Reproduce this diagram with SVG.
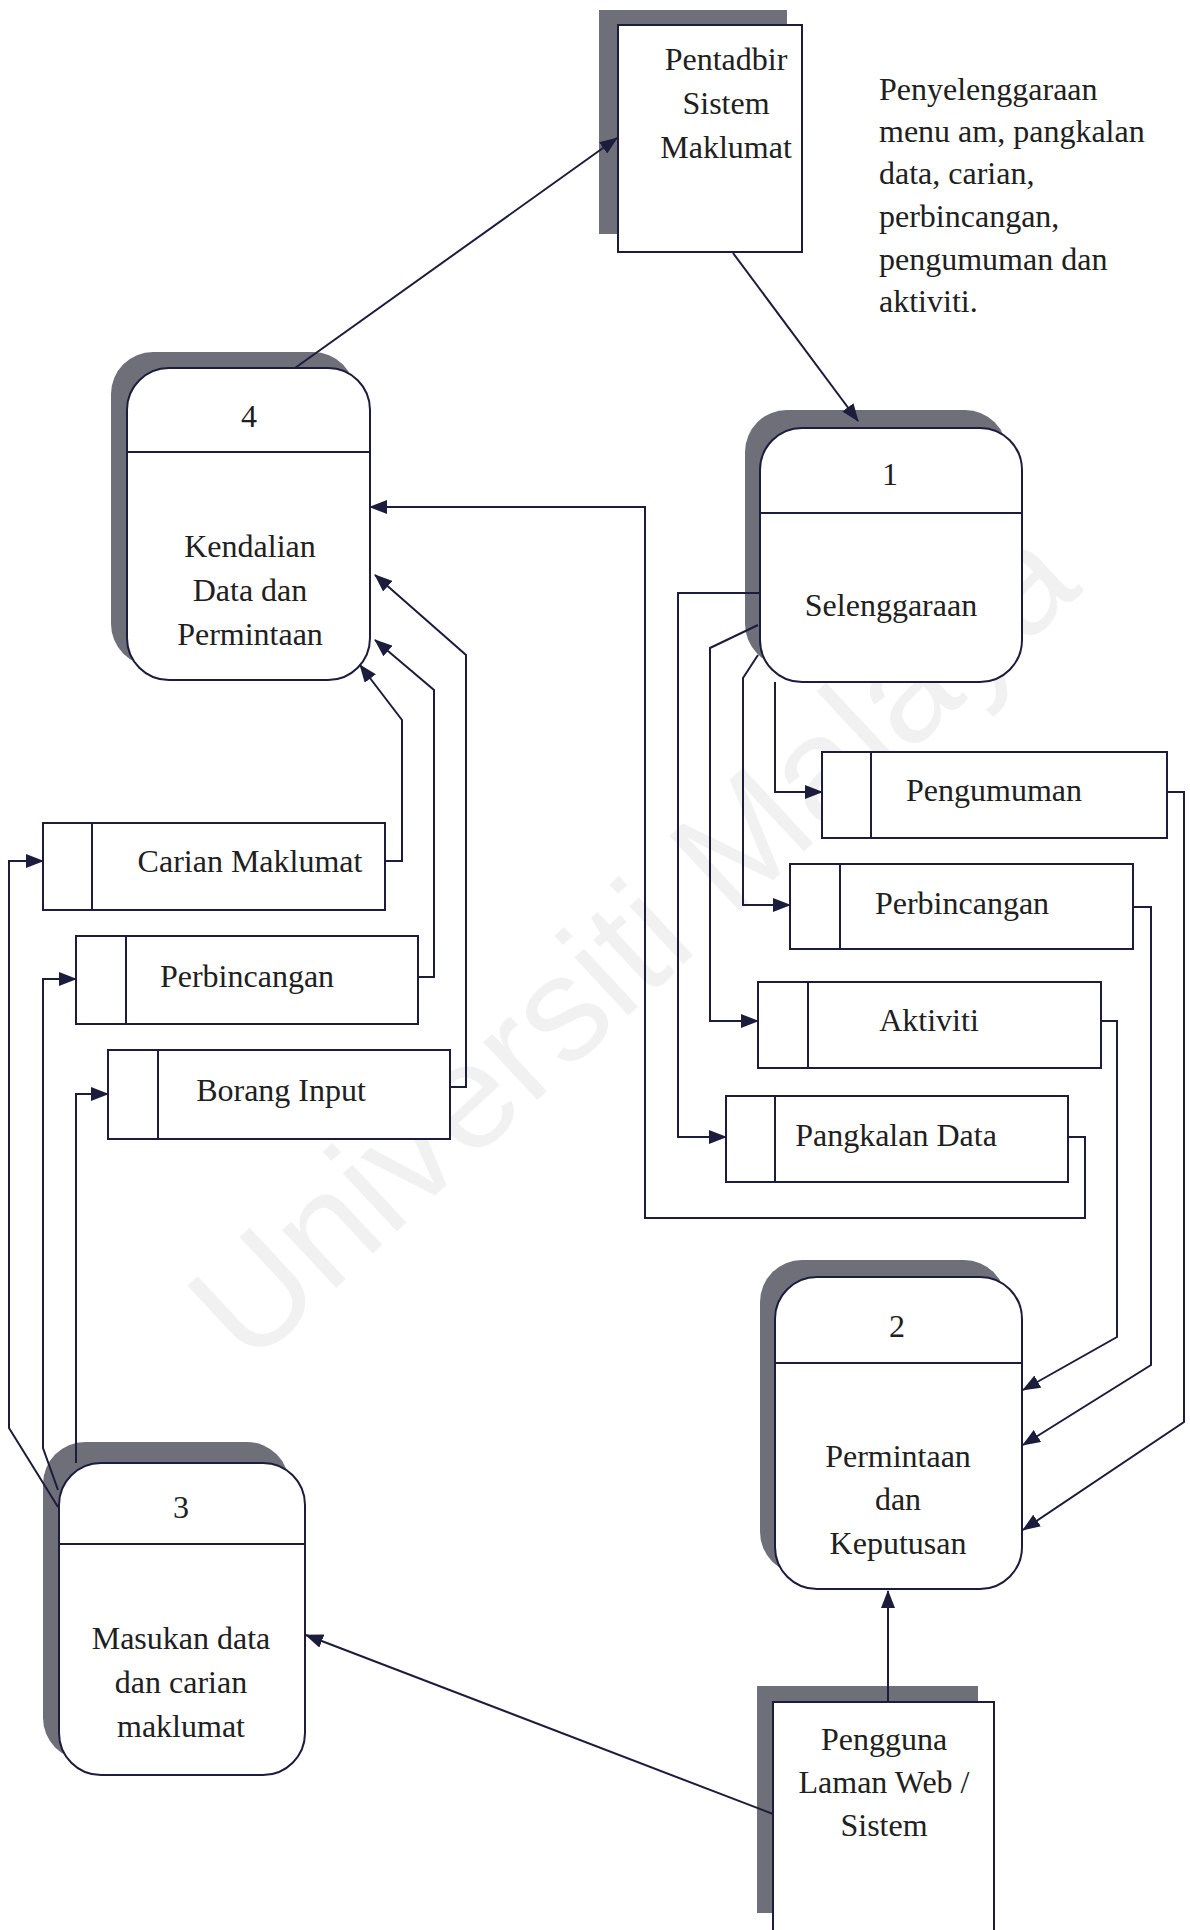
<svg xmlns="http://www.w3.org/2000/svg" width="1190" height="1930" viewBox="0 0 1190 1930">
<defs>
<marker id="ah" markerUnits="userSpaceOnUse" markerWidth="18" markerHeight="14" refX="17" refY="7" orient="auto">
<path d="M0,0 L18,7 L0,14 Z" fill="#1c1c3c"/>
</marker>
<style>
.bg{fill:#ffffff}
.wm{font-family:"Liberation Sans",Arial,sans-serif;font-size:150px;fill:#000;fill-opacity:0.055}
.sh{fill:#6f6f7a}
.box{fill:#ffffff;stroke:#1c1c3c;stroke-width:2}
.div{stroke:#1c1c3c;stroke-width:2}
.t{font-family:"Liberation Serif","Times New Roman",serif;font-size:32px;fill:#202020}
.c{text-anchor:middle}
.ln{fill:none;stroke:#1c1c3c;stroke-width:2}
.ar{marker-end:url(#ah)}
</style>
</defs>
<rect class="bg" x="0" y="0" width="1190" height="1930"/>
<text class="wm c" transform="translate(630,940) rotate(-43)" y="54">Universiti Malaya</text>

<g id="pentadbir">
<rect class="sh" x="599" y="10" width="188" height="224"/>
<rect class="box" x="618" y="25" width="184" height="227"/>
<text class="t c" x="726"><tspan x="726" y="70">Pentadbir</tspan><tspan x="726" y="114">Sistem</tspan><tspan x="726" y="158">Maklumat</tspan></text>
</g>

<g id="annotation">
<text class="t"><tspan x="879" y="100">Penyelenggaraan</tspan><tspan x="879" y="142">menu am, pangkalan</tspan><tspan x="879" y="184">data, carian,</tspan><tspan x="879" y="227">perbincangan,</tspan><tspan x="879" y="270">pengumuman dan</tspan><tspan x="879" y="312">aktiviti.</tspan></text>
</g>

<g id="node4">
<rect class="sh" x="111" y="352" width="244" height="314" rx="42"/>
<rect class="box" x="127" y="368" width="243" height="312" rx="42"/>
<line class="div" x1="127" y1="452" x2="370" y2="452"/>
<text class="t c" x="249" y="427">4</text>
<text class="t c"><tspan x="250" y="557">Kendalian</tspan><tspan x="250" y="601">Data dan</tspan><tspan x="250" y="645">Permintaan</tspan></text>
</g>

<g id="node1">
<rect class="sh" x="745" y="410" width="262" height="256" rx="42"/>
<rect class="box" x="760" y="428" width="262" height="254" rx="42"/>
<line class="div" x1="760" y1="513" x2="1022" y2="513"/>
<text class="t c" x="890" y="485">1</text>
<text class="t c" x="891" y="616">Selenggaraan</text>
</g>

<g id="node2">
<rect class="sh" x="760" y="1260" width="246" height="314" rx="42"/>
<rect class="box" x="775" y="1277" width="247" height="312" rx="42"/>
<line class="div" x1="775" y1="1363" x2="1022" y2="1363"/>
<text class="t c" x="897" y="1337">2</text>
<text class="t c"><tspan x="898" y="1467">Permintaan</tspan><tspan x="898" y="1510">dan</tspan><tspan x="898" y="1554">Keputusan</tspan></text>
</g>

<g id="node3">
<rect class="sh" x="43" y="1442" width="246" height="318" rx="42"/>
<rect class="box" x="59" y="1463" width="246" height="312" rx="42"/>
<line class="div" x1="59" y1="1544" x2="305" y2="1544"/>
<text class="t c" x="181" y="1518">3</text>
<text class="t c"><tspan x="181" y="1649">Masukan data</tspan><tspan x="181" y="1693">dan carian</tspan><tspan x="181" y="1737">maklumat</tspan></text>
</g>

<g id="pengguna">
<rect class="sh" x="757" y="1686" width="221" height="227"/>
<rect class="box" x="773" y="1702" width="221" height="240"/>
<text class="t c"><tspan x="884" y="1750">Pengguna</tspan><tspan x="884" y="1793">Laman Web /</tspan><tspan x="884" y="1836">Sistem</tspan></text>
</g>

<g id="store-carian">
<rect class="box" x="43" y="823" width="342" height="87"/>
<line class="div" x1="92" y1="823" x2="92" y2="910"/>
<text class="t c" x="250" y="872">Carian Maklumat</text>
</g>
<g id="store-perbincangan-l">
<rect class="box" x="76" y="936" width="342" height="88"/>
<line class="div" x1="126" y1="936" x2="126" y2="1024"/>
<text class="t c" x="247" y="987">Perbincangan</text>
</g>
<g id="store-borang">
<rect class="box" x="108" y="1050" width="342" height="89"/>
<line class="div" x1="158" y1="1050" x2="158" y2="1139"/>
<text class="t c" x="281" y="1101">Borang Input</text>
</g>

<g id="store-pengumuman">
<rect class="box" x="822" y="752" width="345" height="86"/>
<line class="div" x1="871" y1="752" x2="871" y2="838"/>
<text class="t c" x="994" y="801">Pengumuman</text>
</g>
<g id="store-perbincangan-r">
<rect class="box" x="790" y="864" width="343" height="85"/>
<line class="div" x1="840" y1="864" x2="840" y2="949"/>
<text class="t c" x="962" y="914">Perbincangan</text>
</g>
<g id="store-aktiviti">
<rect class="box" x="758" y="982" width="343" height="86"/>
<line class="div" x1="808" y1="982" x2="808" y2="1068"/>
<text class="t c" x="929" y="1031">Aktiviti</text>
</g>
<g id="store-pangkalan">
<rect class="box" x="726" y="1096" width="342" height="86"/>
<line class="div" x1="775" y1="1096" x2="775" y2="1182"/>
<text class="t c" x="896" y="1146">Pangkalan Data</text>
</g>

<g id="connectors">
<path class="ln ar" d="M295,368 L617,138"/>
<path class="ln ar" d="M733,253 L858,421"/>
<path class="ln ar" d="M775,682 L775,792 L822,792"/>
<path class="ln ar" d="M758,655 L743,678 L743,905 L790,905"/>
<path class="ln ar" d="M758,625 L710,648 L710,1021 L758,1021"/>
<path class="ln ar" d="M760,593 L678,593 L678,1137 L726,1137"/>
<path class="ln ar" d="M1167,792 L1184,792 L1184,1422 L1023,1530"/>
<path class="ln ar" d="M1133,907 L1151,907 L1151,1365 L1023,1445"/>
<path class="ln ar" d="M1101,1021 L1117,1021 L1117,1337 L1023,1390"/>
<path class="ln ar" d="M1068,1137 L1085,1137 L1085,1218 L645,1218 L645,507 L370,507"/>
<path class="ln ar" d="M385,861 L402,861 L402,720 L360,665"/>
<path class="ln ar" d="M418,977 L434,977 L434,690 L375,640"/>
<path class="ln ar" d="M450,1087 L466,1087 L466,655 L375,575"/>
<path class="ln ar" d="M58,1507 L9,1428 L9,861 L43,861"/>
<path class="ln ar" d="M58,1490 L43,1448 L43,979 L76,979"/>
<path class="ln ar" d="M76,1463 L76,1094 L108,1094"/>
<path class="ln ar" d="M773,1814 L306,1635"/>
<path class="ln ar" d="M888,1702 L888,1591"/>
</g>
</svg>
